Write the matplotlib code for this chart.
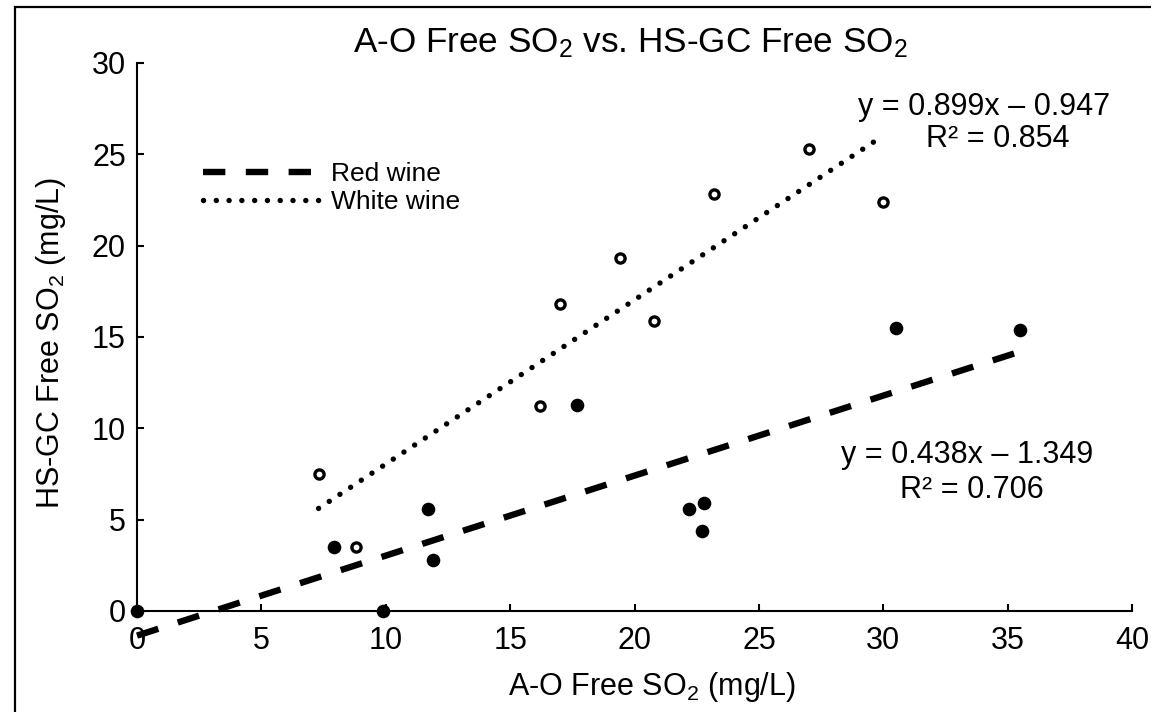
import matplotlib
matplotlib.use("Agg")
import matplotlib.pyplot as plt
from matplotlib.patches import Rectangle
import numpy as np

# ---- data ----
red_x = [0.0, 9.9, 7.9, 11.7, 11.9, 17.7, 22.2, 22.8, 22.7, 30.5, 35.5]
red_y = [0.0, 0.0, 3.5, 5.6, 2.8, 11.3, 5.6, 5.9, 4.4, 15.5, 15.4]
white_x = [7.3, 8.8, 16.2, 17.0, 19.4, 20.8, 23.2, 27.0, 30.0]
white_y = [7.5, 3.5, 11.2, 16.8, 19.35, 15.9, 22.85, 25.3, 22.4]
red_fit = (0.438, -1.349)
white_fit = (0.899, -0.947)
red_r2 = 0.706
white_r2 = 0.854
x_ticks = [0, 5, 10, 15, 20, 25, 30, 35, 40]
y_ticks = [0, 5, 10, 15, 20, 25, 30]

plt.rcParams['font.family'] = ['Liberation Sans', 'DejaVu Sans']
plt.rcParams['mathtext.fontset'] = 'custom'
plt.rcParams['mathtext.rm'] = 'Liberation Sans'
plt.rcParams['mathtext.it'] = 'Liberation Sans:italic'
plt.rcParams['mathtext.bf'] = 'Liberation Sans:bold'

W, H = 1151, 712
fig = plt.figure(figsize=(W / 100, H / 100), dpi=100)
ax_l, ax_r, ax_t, ax_b = 137, 1132, 63, 611
ax = fig.add_axes([ax_l / W, 1 - ax_b / H, (ax_r - ax_l) / W, (ax_b - ax_t) / H])

# outer frame
fig.patches.append(Rectangle((15 / W, -0.2), 1.5, (1 - 7 / H) + 0.2,
                             transform=fig.transFigure, fill=False,
                             lw=1.6, ec='black'))

# regression lines
rx = np.array([min(red_x), max(red_x)])
wx = np.array([min(white_x), max(white_x)])
ln_red, = ax.plot(rx, red_fit[0] * rx + red_fit[1], color='black', lw=4.6,
                  dashes=(3.5, 3.2), dash_capstyle='butt', clip_on=False,
                  label='Red wine', zorder=3)
ln_white, = ax.plot(wx, white_fit[0] * wx + white_fit[1], color='black', lw=3.9,
                    dashes=(0.01, 2.35), dash_capstyle='round', clip_on=False,
                    label='White wine', zorder=3)

# points
ax.plot(red_x, red_y, 'o', color='black', ms=9.8, mew=0, clip_on=False, zorder=4)
ax.plot(white_x, white_y, 'o', mfc='white', mec='black', ms=6.6, mew=2.4,
        clip_on=False, zorder=4)

ax.set_xlim(0, 40)
ax.set_ylim(0, 30)
ax.set_xticks(x_ticks)
ax.set_yticks(y_ticks)
ax.set_xticklabels([str(t) for t in x_ticks])
ax.set_yticklabels([str(t) for t in y_ticks])
for s in ['top', 'right']:
    ax.spines[s].set_visible(False)
for s in ['left', 'bottom']:
    ax.spines[s].set_linewidth(1.5)
ax.tick_params(axis='both', direction='in', length=5, width=1.5, labelsize=22)
ax.tick_params(axis='x', pad=10.5)
ax.tick_params(axis='y', pad=8.0)

# title and axis labels
ax.text(0.4955, 1.020, 'A-O Free SO$_2$ vs. HS-GC Free SO$_2$', transform=ax.transAxes,
        ha='center', va='baseline', fontsize=25.3)
ax.text(0.5176, -0.153, 'A-O Free SO$_2$ (mg/L)', transform=ax.transAxes,
        ha='center', va='baseline', fontsize=22)
ax.text(-0.0784, 0.489, 'HS-GC Free SO$_2$ (mg/L)', transform=ax.transAxes,
        ha='center', va='baseline', rotation=90, rotation_mode='anchor', fontsize=22)

# equations
ax.text(34.07, 27.15, f'y = {white_fit[0]:.3f}x \u2013 {abs(white_fit[1]):.3f}',
        ha='center', va='baseline', fontsize=22)
ax.text(34.61, 25.40, f'R\u00b2 = {white_r2:.3f}', ha='center', va='baseline', fontsize=22)
ax.text(33.37, 8.10, f'y = {red_fit[0]:.3f}x \u2013 {abs(red_fit[1]):.3f}',
        ha='center', va='baseline', fontsize=22)
ax.text(33.57, 6.18, f'R\u00b2 = {red_r2:.3f}', ha='center', va='baseline', fontsize=22)

ax.legend(handles=[ln_red, ln_white], loc='upper left',
          bbox_to_anchor=((203 - ax_l) / (ax_r - ax_l), (ax_b - 162) / (ax_b - ax_t)),
          frameon=False, fontsize=19, handlelength=4.4, handletextpad=0.45,
          borderpad=0, borderaxespad=0, labelspacing=0.15)

fig.savefig('out.png', dpi=100)
